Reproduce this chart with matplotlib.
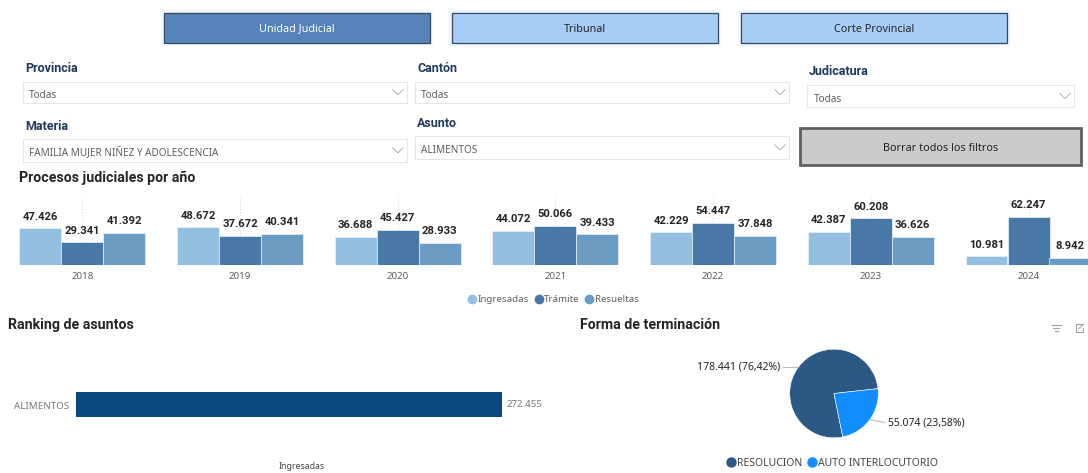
import matplotlib
matplotlib.use("Agg")
import matplotlib.pyplot as plt
from matplotlib.patches import Rectangle
from matplotlib.lines import Line2D
import numpy as np

# ---------------- data ----------------
years = ['2018', '2019', '2020', '2021', '2022', '2023', '2024']
ingresadas = [47426, 48672, 36688, 44072, 42229, 42387, 10981]
tramite = [29341, 37672, 45427, 50066, 54447, 60208, 62247]
resueltas = [41392, 40341, 28933, 39433, 37848, 36626, 8942]
series_names = ['Ingresadas', 'Trámite', 'Resueltas']

asuntos = ['ALIMENTOS']
asunto_ingresadas = [272455]

formas = ['RESOLUCION', 'AUTO INTERLOCUTORIO']
formas_vals = [178441, 55074]

buttons = ['Unidad Judicial', 'Tribunal', 'Corte Provincial']
filters = [('Provincia', 'Todas'), ('Cantón', 'Todas'), ('Judicatura', 'Todas'),
           ('Materia', 'FAMILIA MUJER NIÑEZ Y ADOLESCENCIA'), ('Asunto', 'ALIMENTOS')]

# ---------------- style ----------------
W, H = 1088, 473
DPI = 100
REG = ['Noto Sans', 'DejaVu Sans']
BOLD = ['Roboto', 'DejaVu Sans']
C_ING = '#93C0E0'
C_TRA = '#4878A8'
C_RES = '#6A9CC4'
C_TITLE = '#252423'
C_LAB = '#1E3A5F'
C_GRAY = '#605E5C'

plt.rcParams['font.family'] = REG


def fmt(v):
    return f"{v:,}".replace(',', '.')


def fbox(left, top, right, bottom):
    return [left / W, 1 - bottom / H, (right - left) / W, (bottom - top) / H]


fig = plt.figure(figsize=(W / DPI, H / DPI), dpi=DPI)
fig.patch.set_facecolor('white')

# background / decoration axes in pixel coords
bg = fig.add_axes([0, 0, 1, 1])
bg.set_xlim(0, W)
bg.set_ylim(H, 0)
bg.axis('off')

# ---- top buttons ----
btn_boxes = [(163.8, 13.5, 429.7, 42.7), (452, 13.5, 717.6, 42.7), (741, 13.5, 1006.6, 42.7)]
btn_fill = ['#5383B9', '#A6CEF8', '#A6CEF8']
btn_text = ['white', C_TITLE, C_TITLE]
for (l, t, r, b), name, fc, tc in zip(btn_boxes, buttons, btn_fill, btn_text):
    for k in range(1, 5):
        bg.add_patch(Rectangle((l - k, t - k), (r - l) + 2 * k, (b - t) + 2 * k,
                               facecolor='#A8D2FF', alpha=0.07, lw=0))
    bg.add_patch(Rectangle((l, t), r - l, b - t, facecolor=fc, edgecolor='#3C4A58', lw=0.9))
    bg.text((l + r) / 2, (t + b) / 2 + 1.0, name, ha='center', va='center',
            fontsize=7.8, color=tc, family=REG)

# ---- filters ----
filt_layout = [
    # label_x, label_y, box (l,t,r,b)
    (26.3, 68.3, (22.8, 81.7, 406.9, 103.3)),
    (418.0, 68.3, (415.0, 81.7, 789.0, 103.3)),
    (810.0, 71.7, (807.4, 85.5, 1074.0, 107.3)),
    (26.3, 126.0, (22.8, 139.3, 406.9, 162.3)),
    (418.0, 123.0, (415.0, 136.0, 789.0, 159.3)),
]
for (lab, val), (lx, ly, (l, t, r, b)) in zip(filters, filt_layout):
    bg.text(lx - 1, ly, lab, ha='left', va='center', fontsize=9, fontweight='bold',
            color=C_LAB, family=BOLD)
    bg.add_patch(Rectangle((l, t), r - l, b - t, facecolor='white', edgecolor='#E6E6E6', lw=0.8))
    bg.text(l + 6.3, (t + b) / 2 + 2.6, val, ha='left', va='center', fontsize=7.2,
            color=C_GRAY, family=REG)
    cx = r - 9
    cy = (t + b) / 2 - 0.5
    bg.plot([cx - 5.2, cx, cx + 5.2], [cy - 2.4, cy + 2.6, cy - 2.4], color='#A5A5A5', lw=0.6)

# ---- borrar filtros button ----
bg.add_patch(Rectangle((800, 127.5), 280.5, 37.8, facecolor='#CBCBCB', edgecolor='#606060', lw=2.0))
bg.text(940.5, 148.5, 'Borrar todos los filtros', ha='center', va='center', fontsize=7.8,
        color=C_TITLE, family=REG)

# ---- section titles ----
bg.text(19, 178.3, 'Procesos judiciales por año', ha='left', va='center', fontsize=10.2,
        fontweight='bold', color=C_TITLE, family=BOLD)
bg.text(7.9, 325, 'Ranking de asuntos', ha='left', va='center', fontsize=10.2,
        fontweight='bold', color=C_TITLE, family=BOLD)
bg.text(579.5, 325, 'Forma de terminación', ha='left', va='center', fontsize=10.2,
        fontweight='bold', color=C_TITLE, family=BOLD)

# ---- small visual header icons ----
for yy, ww in [(324.5, 9), (327.5, 6), (330.5, 3)]:
    bg.plot([1056 - ww / 2, 1056 + ww / 2], [yy, yy], color='#A0A0A0', lw=0.8)
bg.plot([1079, 1075.5, 1075.5, 1083, 1083], [324, 324, 331.5, 331.5, 328], color='#A0A0A0', lw=0.8)
bg.plot([1079, 1083, 1083], [324, 324, 324], color='#A0A0A0', lw=0.8)
bg.plot([1078.5, 1083], [329, 324.5], color='#A0A0A0', lw=0.7)

# ---------------- grouped bar chart ----------------
axb = fig.add_axes(fbox(0, 190, W, 265))
spacing_px = 157.7
first_center_px = 82.3
axb.set_xlim(-first_center_px / spacing_px, (W - first_center_px) / spacing_px)
px_per_unit = 0.776 / 1000.0
axb.set_ylim(0, 75 / px_per_unit)
x = np.arange(len(years))
bw = 42.0 / spacing_px
for off, vals, col in zip([-bw, 0, bw], [ingresadas, tramite, resueltas], [C_ING, C_TRA, C_RES]):
    bars = axb.bar(x + off, vals, width=bw, color=col, edgecolor='#EAF2FA', linewidth=0.5, zorder=2)
    for rect, v in zip(bars, vals):
        axb.annotate(fmt(v), (rect.get_x() + rect.get_width() / 2, rect.get_height()),
                     xytext=(0, 8.4), textcoords='offset points', ha='center', va='center',
                     fontsize=8.1, fontweight='bold', color='#252423', family=BOLD,
                     annotation_clip=False)
axb.vlines(x, 0, axb.get_ylim()[1] * 0.93, colors='#D6D6D6', linestyles=(0, (1, 2)), lw=0.7, zorder=0)
axb.set_xticks(x)
axb.set_xticklabels(years, fontsize=7, color=C_GRAY)
axb.tick_params(axis='x', length=0, pad=4.8)
axb.set_yticks([])
for s in axb.spines.values():
    s.set_visible(False)
axb.patch.set_alpha(0)

handles = [Line2D([], [], marker='o', ls='', markersize=6, color=c) for c in [C_ING, C_TRA, C_RES]]
fig.legend(handles, series_names, loc='center', bbox_to_anchor=(553 / W, 1 - 300 / H),
           ncol=3, frameon=False, fontsize=7, handletextpad=0.1, columnspacing=0.45,
           borderpad=0, handlelength=1.0, labelcolor=C_GRAY)

# ---------------- ranking bar ----------------
axr = fig.add_axes(fbox(76, 345, 501.8, 465))
axr.set_xlim(0, max(asunto_ingresadas))
axr.set_ylim(-0.5, 0.5)
yb = np.arange(len(asuntos))
rbars = axr.barh(yb + 0.004, asunto_ingresadas, height=25.6 / 120, color='#0B4A80')
for rect, v in zip(rbars, asunto_ingresadas):
    axr.annotate(fmt(v), (rect.get_width(), rect.get_y() + rect.get_height() / 2),
                 xytext=(3.7, 0), textcoords='offset points', ha='left', va='center',
                 fontsize=7, color='#777777', annotation_clip=False)
axr.set_yticks(yb)
axr.set_yticklabels(asuntos, fontsize=7, color='#777777')
axr.tick_params(axis='y', length=0, pad=5)
axr.set_xticks([])
for s in axr.spines.values():
    s.set_visible(False)
axr.patch.set_alpha(0)
axr.text(0.53, -0.01, 'Ingresadas', transform=axr.transAxes, ha='center', va='center',
         fontsize=6.3, color='#444444')

# ---------------- pie ----------------
pcx, pcy, pr = 834, 393.5, 44.3
axp = fig.add_axes(fbox(pcx - pr, pcy - pr, pcx + pr, pcy + pr))
pie_cols = ['#2B5885', '#118DFF']
wedges, _ = axp.pie(formas_vals, colors=pie_cols, startangle=-78.6, counterclock=False,
                    wedgeprops=dict(edgecolor='white', linewidth=0.4))
axp.set_xlim(-1, 1)
axp.set_ylim(-1, 1)
axp.set_aspect('equal')
total = sum(formas_vals)
for wdg, v in zip(wedges, formas_vals):
    mid = np.deg2rad((wdg.theta1 + wdg.theta2) / 2)
    ex, ey = np.cos(mid), np.sin(mid)
    side = np.sign(ex)
    label = f"{fmt(v)} (" + f"{v / total * 100:.2f}".replace('.', ',') + "%)"
    ly = ey if side < 0 else ey - 0.07
    axp.plot([ex, side * 1.15], [ey, ly], color='#BDBDBD', lw=0.8, clip_on=False)
    axp.text(side * 1.22, ly, label, ha='left' if side > 0 else 'right', va='center',
             fontsize=7.5, color=C_TITLE, clip_on=False)

ph = [Line2D([], [], marker='o', ls='', markersize=6.5, color=c) for c in pie_cols]
fig.legend(ph, formas, loc='center', bbox_to_anchor=(832 / W, 1 - 463.3 / H), ncol=2,
           frameon=False, fontsize=7.5, handletextpad=0.1, columnspacing=0.45,
           borderpad=0, handlelength=1.0, labelcolor='#444444')

fig.savefig('out.png', dpi=DPI, facecolor='white')
